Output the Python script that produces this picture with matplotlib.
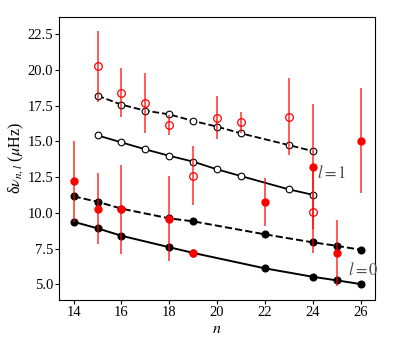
import matplotlib
matplotlib.use('Agg')
import matplotlib.pyplot as plt

plt.rcParams['font.family'] = 'serif'
plt.rcParams['font.serif'] = ['Liberation Serif', 'DejaVu Serif']
plt.rcParams['mathtext.fontset'] = 'stix'
plt.rcParams['font.size'] = 10.5

# model l=0 (filled black)
n_l0 = [14, 15, 16, 18, 19, 22, 24, 25, 26]
model_a_l0 = [9.38, 8.92, 8.40, 7.60, 7.20, 6.12, 5.53, 5.28, 5.02]
model_b_l0 = [11.16, 10.78, 10.30, 9.62, 9.41, 8.50, 7.94, 7.70, 7.42]

# model l=1 (open black)
n_l1 = [15, 16, 17, 18, 19, 20, 21, 23, 24]
model_a_l1 = [15.43, 14.94, 14.45, 14.00, 13.59, 13.05, 12.58, 11.65, 11.27]
model_b_l1 = [18.21, 17.58, 17.16, 16.90, 16.44, 16.04, 15.57, 14.75, 14.33]

# observed (red)
obs_l0 = [12.21, 10.30, 10.25, 9.60, 7.17, 10.76, 13.24, 7.19, 15.06]
err_l0 = [2.85, 2.5, 3.1, 2.95, 0.0, 1.7, 4.4, 2.33, 3.67]
obs_l1 = [20.27, 18.42, 17.72, 16.16, 12.60, 16.67, 16.34, 16.74, 10.08]
err_l1 = [2.5, 1.7, 2.1, 0.7, 2.05, 1.5, 0.75, 2.7, 2.9]

fig = plt.figure(figsize=(3.95, 3.53), dpi=100)
ax = fig.add_axes([0.150, 0.150, 0.799, 0.802])

ax.plot(n_l0, model_a_l0, 'k-', lw=1.4, marker='o', ms=4.8, zorder=2)
ax.plot(n_l0, model_b_l0, 'k--', lw=1.4, marker='o', ms=4.8, zorder=2)
ax.plot(n_l1, model_a_l1, 'k-', lw=1.3, marker='o', ms=4.8, mfc='white', mew=0.8, zorder=2)
ax.plot(n_l1, model_b_l1, 'k--', lw=1.3, marker='o', ms=4.8, mfc='white', mew=0.8, zorder=2)

ax.errorbar(n_l0, obs_l0, yerr=err_l0, fmt='none', ecolor='red', alpha=0.75, lw=1.2, zorder=3)
ax.errorbar(n_l1, obs_l1, yerr=err_l1, fmt='none', ecolor='red', alpha=0.75, lw=1.2, zorder=3)
ax.plot(n_l0, obs_l0, 'o', color='red', ms=5, ls='none', zorder=4)
ax.plot(n_l1, obs_l1, 'o', mec='red', mfc='none', ms=5.5, mew=0.9, ls='none', zorder=4)

ax.text(24.17, 12.77, '$l=1$', fontsize=12, color='0.3', va='center')
ax.text(25.46, 6.0, '$l=0$', fontsize=12, color='0.3', va='center')

ax.set_xlim(13.4, 26.6)
ax.set_ylim(3.9, 23.72)
ax.set_xticks([14, 16, 18, 20, 22, 24, 26])
ax.set_yticks([5.0, 7.5, 10.0, 12.5, 15.0, 17.5, 20.0, 22.5])
ax.tick_params(length=3, pad=1.5)
ax.set_xlabel('$n$', fontsize=11.5)
ax.set_ylabel(r'δ$\nu_{n,l}$ ($\mu$Hz)', fontsize=11.5)
ax.yaxis.set_label_coords(-0.105, 0.5)
ax.xaxis.set_label_coords(0.5, -0.075)

fig.savefig('out.png', dpi=100)
